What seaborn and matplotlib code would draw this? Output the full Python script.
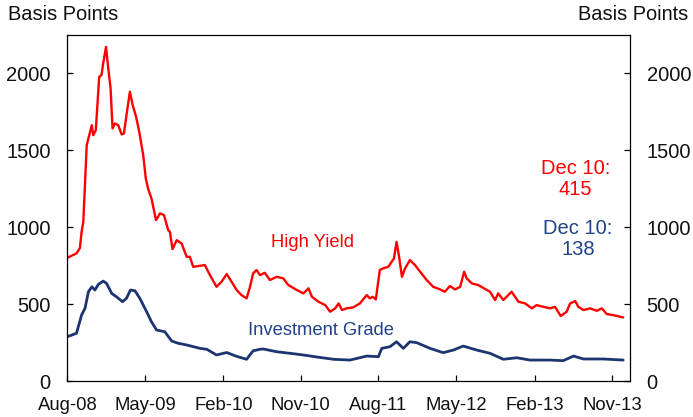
import matplotlib
matplotlib.use("Agg")
import matplotlib.pyplot as plt
import matplotlib.dates as mdates
import pandas as pd
import seaborn as sns

# ---- data ----
hy_dates = [
    "2008-08-01", "2008-09-02", "2008-09-14", "2008-09-20", "2008-09-26", "2008-10-08",
    "2008-10-14", "2008-10-26", "2008-10-31", "2008-11-09", "2008-11-21", "2008-11-29",
    "2008-12-05", "2008-12-15", "2008-12-23", "2008-12-31", "2009-01-07", "2009-01-15",
    "2009-01-27", "2009-02-08", "2009-02-16", "2009-02-25", "2009-03-09", "2009-03-19",
    "2009-03-31", "2009-04-11", "2009-04-25", "2009-05-04", "2009-05-12", "2009-05-24",
    "2009-06-09", "2009-06-23", "2009-07-07", "2009-07-22", "2009-07-28", "2009-08-06",
    "2009-08-21", "2009-09-07", "2009-09-25", "2009-10-06", "2009-10-18", "2009-11-28",
    "2009-12-16", "2010-01-08", "2010-01-26", "2010-02-13", "2010-03-02", "2010-03-20",
    "2010-04-06", "2010-04-24", "2010-05-06", "2010-05-17", "2010-05-29", "2010-06-10",
    "2010-06-27", "2010-07-15", "2010-08-08", "2010-08-31", "2010-09-18", "2010-10-18",
    "2010-11-10", "2010-11-28", "2010-12-10", "2011-01-02", "2011-01-26", "2011-02-12",
    "2011-03-02", "2011-03-14", "2011-03-26", "2011-04-11", "2011-05-04", "2011-05-28",
    "2011-06-21", "2011-07-02", "2011-07-12", "2011-07-23", "2011-08-06", "2011-08-18",
    "2011-09-05", "2011-09-17", "2011-09-25", "2011-10-04", "2011-10-13", "2011-10-23",
    "2011-11-03", "2011-11-20", "2011-12-08", "2011-12-26", "2012-01-18", "2012-02-10",
    "2012-03-05", "2012-03-22", "2012-04-09", "2012-04-27", "2012-05-15", "2012-05-29",
    "2012-06-07", "2012-06-25", "2012-07-18", "2012-08-28", "2012-09-15", "2012-09-26",
    "2012-10-14", "2012-11-12", "2012-12-06", "2012-12-30", "2013-01-22", "2013-02-08",
    "2013-03-04", "2013-03-28", "2013-04-14", "2013-05-04", "2013-05-25", "2013-06-06",
    "2013-06-24", "2013-07-05", "2013-07-23", "2013-08-16", "2013-09-08", "2013-09-26",
    "2013-10-13", "2013-11-05", "2013-12-10",
]
hy_values = [
    803, 831, 866, 971, 1036, 1534,
    1578, 1664, 1599, 1632, 1978, 1989,
    2065, 2173, 2032, 1903, 1643, 1675,
    1664, 1604, 1610, 1729, 1881, 1794,
    1718, 1621, 1469, 1318, 1253, 1188,
    1047, 1091, 1080, 982, 971, 859,
    917, 896, 809, 809, 744, 755,
    690, 614, 647, 697, 647, 593,
    560, 539, 614, 701, 723, 690,
    705, 658, 679, 669, 625, 593,
    571, 604, 549, 517, 495, 452,
    474, 506, 463, 474, 480, 506,
    560, 539, 549, 532, 723, 734,
    744, 777, 799, 906, 809, 679,
    734, 788, 755, 712, 658, 614,
    597, 582, 619, 597, 614, 712,
    669, 636, 625, 582, 528, 571,
    528, 582, 517, 506, 474, 495,
    484, 474, 484, 424, 452, 506,
    521, 484, 463, 474, 458, 474,
    437, 430, 415,
]

ig_dates = [
    "2008-08-01", "2008-09-02", "2008-09-20", "2008-10-02", "2008-10-14", "2008-10-26",
    "2008-11-06", "2008-11-18", "2008-12-05", "2008-12-17", "2009-01-04", "2009-01-21",
    "2009-02-11", "2009-02-25", "2009-03-11", "2009-03-27", "2009-04-13", "2009-05-07",
    "2009-05-24", "2009-06-11", "2009-07-10", "2009-08-03", "2009-08-26", "2009-09-25",
    "2009-11-11", "2009-12-05", "2010-01-08", "2010-02-13", "2010-03-20", "2010-04-24",
    "2010-05-17", "2010-06-10", "2010-06-21", "2010-08-08", "2010-09-23", "2010-11-10",
    "2010-12-27", "2011-02-24", "2011-04-23", "2011-06-21", "2011-08-01", "2011-08-13",
    "2011-09-11", "2011-10-04", "2011-10-28", "2011-11-20", "2011-12-14", "2012-01-30",
    "2012-03-16", "2012-04-21", "2012-05-26", "2012-07-12", "2012-08-28", "2012-10-14",
    "2012-11-30", "2013-01-16", "2013-03-28", "2013-05-13", "2013-06-18", "2013-07-23",
    "2013-10-01", "2013-12-10",
]
ig_values = [
    290, 312, 431, 474, 582, 614,
    593, 630, 651, 636, 571, 549,
    517, 539, 593, 588, 539, 452,
    387, 333, 322, 262, 247, 236,
    214, 208, 171, 187, 162, 143,
    198, 208, 210, 192, 182, 171,
    158, 143, 138, 164, 160, 214,
    225, 257, 214, 257, 251, 214,
    186, 203, 229, 203, 182, 143,
    153, 138, 138, 134, 164, 145,
    145, 138,
]

tick_dates = ["2008-08-01", "2009-05-01", "2010-02-01", "2010-11-01",
              "2011-08-01", "2012-05-01", "2013-02-01", "2013-11-01"]
y_ticks = [0, 500, 1000, 1500, 2000]
series_names = ["High Yield", "Investment Grade"]
end_labels = ["Dec 10:\n415", "Dec 10:\n138"]

RED = "#FF0000"
NAVY = "#1C3570"
NAVY_TXT = "#21428A"

# ---- build frame ----
df = pd.concat([
    pd.DataFrame({"date": pd.to_datetime(hy_dates), "bp": hy_values, "series": series_names[0]}),
    pd.DataFrame({"date": pd.to_datetime(ig_dates), "bp": ig_values, "series": series_names[1]}),
], ignore_index=True)

sns.set_theme(style="white")
plt.rcParams["font.family"] = ["Liberation Sans", "DejaVu Sans"]

fig = plt.figure(figsize=(6.93, 4.17), dpi=100)
ax = fig.add_axes([67.4 / 693, 1 - 381.3 / 417, (630 - 67.4) / 693, (381.3 - 35) / 417])

sns.lineplot(data=df, x="date", y="bp", hue="series",
             palette={series_names[0]: RED, series_names[1]: NAVY},
             size="series", sizes={series_names[0]: 1.7, series_names[1]: 2.0},
             legend=False, ax=ax)

ax.set_xlim(pd.Timestamp("2008-08-01"), pd.Timestamp("2014-01-03"))
ax.set_ylim(0, 2250)
ax.set_xlabel("")
ax.set_ylabel("")

ax.set_xticks(pd.to_datetime(tick_dates))
ax.xaxis.set_major_formatter(mdates.DateFormatter("%b-%y"))
ax.set_yticks(y_ticks)

for s in ax.spines.values():
    s.set_visible(True)
    s.set_color("#000000")
    s.set_linewidth(0.9)

ax.tick_params(axis="y", which="both", direction="in", length=4, width=0.9,
               left=True, right=True, labelleft=True, labelright=True,
               labelsize=14.5, pad=12, colors="#000000")
ax.tick_params(axis="x", which="both", direction="in", length=4, width=0.9,
               bottom=True, top=False, labelsize=13.3, pad=11, colors="#000000")
for lab in ax.get_xticklabels() + ax.get_yticklabels():
    lab.set_color("#111111")

fig.text(8 / 693, 1 - 15 / 417, "Basis Points", ha="left", va="center", fontsize=14.4, color="#111111")
fig.text(688 / 693, 1 - 15 / 417, "Basis Points", ha="right", va="center", fontsize=14.4, color="#111111")

ax.text(0.4365, 0.3994, series_names[0], transform=ax.transAxes, ha="center", va="center",
        fontsize=13.2, color=RED)
ax.text(0.4508, 0.148, series_names[1], transform=ax.transAxes, ha="center", va="center",
        fontsize=13.2, color=NAVY_TXT)
ax.text(0.903, 0.585, end_labels[0], transform=ax.transAxes, ha="center", va="center",
        fontsize=14.5, color=RED, linespacing=1.15)
ax.text(0.9075, 0.411, end_labels[1], transform=ax.transAxes, ha="center", va="center",
        fontsize=14.5, color=NAVY_TXT, linespacing=1.15)

fig.savefig("out.png", dpi=100)
